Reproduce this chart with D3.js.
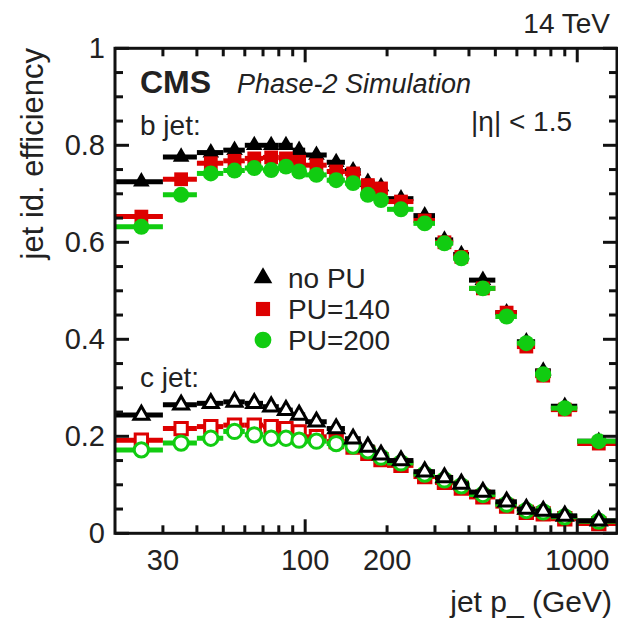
<!DOCTYPE html>
<html>
<head>
<meta charset="utf-8">
<script src="https://cdn.jsdelivr.net/npm/d3@7"></script>
<style>
body { margin: 0; background: #fff; }
text { font-family: "Liberation Sans", Arial, Helvetica, sans-serif; fill: #222; }
</style>
</head>
<body>
<div id="chart"></div>
<script>

// jet pt bin edges (GeV)
var binEdges = [20,30,40,50,60,70,80,90,100,120,140,160,180,200,250,300,350,400,500,600,700,800,1000,1400];

// b jet efficiency
var bNoPU  = [0.725,0.776,0.785,0.790,0.800,0.800,0.800,0.790,0.780,0.765,0.748,0.724,0.715,0.690,0.655,0.605,0.575,0.522,0.455,0.395,0.335,0.262,0.190];
var bPU140 = [0.653,0.730,0.763,0.768,0.773,0.775,0.773,0.766,0.759,0.746,0.742,0.718,0.711,0.684,0.645,0.600,0.570,0.505,0.455,0.385,0.325,0.255,0.185];
var bPU200 = [0.632,0.698,0.742,0.748,0.753,0.749,0.756,0.746,0.739,0.728,0.722,0.698,0.687,0.668,0.639,0.598,0.567,0.505,0.447,0.392,0.328,0.258,0.190];

// c jet mistag
var cNoPU  = [0.244,0.265,0.268,0.271,0.268,0.261,0.254,0.244,0.230,0.216,0.195,0.178,0.162,0.150,0.127,0.115,0.102,0.085,0.065,0.050,0.046,0.036,0.026];
var cPU140 = [0.192,0.216,0.220,0.223,0.223,0.220,0.216,0.209,0.199,0.189,0.178,0.165,0.152,0.140,0.117,0.105,0.093,0.075,0.056,0.043,0.040,0.030,0.020];
var cPU200 = [0.172,0.186,0.196,0.210,0.203,0.196,0.196,0.192,0.190,0.185,0.180,0.170,0.157,0.145,0.122,0.110,0.098,0.080,0.060,0.047,0.044,0.034,0.025];

var xTickLabels = [30,100,200,1000];
var yTickLabels = [0,0.2,0.4,0.6,0.8,1];
var legendNames = ["no PU","PU=140","PU=200"];

var black = "#000000", red = "#dd0000", green = "#11cc11";

var W = 618, H = 622;
var mL = 115, mR = 617, mT = 48.3, mB = 533.3;

var svg = d3.select("#chart").append("svg").attr("width", W).attr("height", H);

var x = d3.scaleLog().domain([20,1400]).range([mL,mR]);
var y = d3.scaleLinear().domain([0,1]).range([mB,mT]);

function rows(vals){
    return vals.map(function(v,i){
        var lo = binEdges[i], hi = binEdges[i+1];
        return {lo:lo, hi:hi, mid:(lo+hi)/2, v:v};
    });
}

function drawSeries(vals, color, shape, open){
    var data = rows(vals);
    var g = svg.append("g");
    g.selectAll("line").data(data).enter().append("line")
        .attr("x1", d=>x(d.lo)).attr("x2", d=>x(d.hi))
        .attr("y1", d=>y(d.v)).attr("y2", d=>y(d.v))
        .attr("stroke", color).attr("stroke-width", 5);
    var size = shape==d3.symbolTriangle ? 120 : (shape==d3.symbolSquare ? 190 : 200);
    if (open) size = size*0.8;
    g.selectAll("path").data(data).enter().append("path")
        .attr("transform", d=>"translate(" + x(d.mid) + "," + y(d.v) + ")")
        .attr("d", d3.symbol().type(shape).size(size))
        .attr("fill", open ? "#fff" : color)
        .attr("stroke", color).attr("stroke-width", open ? 3 : 0);
}

// b jets
drawSeries(bNoPU, black, d3.symbolTriangle, false);
drawSeries(bPU140, red, d3.symbolSquare, false);
drawSeries(bPU200, green, d3.symbolCircle, false);
// c jets
drawSeries(cPU140, red, d3.symbolSquare, true);
drawSeries(cPU200, green, d3.symbolCircle, true);
drawSeries(cNoPU, black, d3.symbolTriangle, true);

// frame
svg.append("rect").attr("x", mL).attr("y", mT)
    .attr("width", mR-mL).attr("height", mB-mT)
    .attr("fill", "none").attr("stroke", "#111").attr("stroke-width", 3);

// x ticks (bottom and top, inward)
var xTicks = [30,40,50,60,70,80,90,100,200,300,400,500,600,700,800,900,1000];
var xt = svg.append("g");
xTicks.forEach(function(t){
    var len = (t==100 || t==1000) ? 14 : 8;
    xt.append("line").attr("x1", x(t)).attr("x2", x(t)).attr("y1", mB).attr("y2", mB-len)
        .attr("stroke", "#111").attr("stroke-width", 3);
    xt.append("line").attr("x1", x(t)).attr("x2", x(t)).attr("y1", mT).attr("y2", mT+len)
        .attr("stroke", "#111").attr("stroke-width", 3);
});
xTickLabels.forEach(function(t){
    svg.append("text").attr("x", x(t)).attr("y", 570).attr("text-anchor", "middle")
        .style("font-size", "29px").text(t);
});

// y ticks
var yt = svg.append("g");
d3.range(0, 21).forEach(function(k){
    var v = k*0.05;
    var len = (k%4==0) ? 14 : 8;
    yt.append("line").attr("x1", mL).attr("x2", mL+len).attr("y1", y(v)).attr("y2", y(v))
        .attr("stroke", "#111").attr("stroke-width", 3);
    yt.append("line").attr("x1", mR).attr("x2", mR-len).attr("y1", y(v)).attr("y2", y(v))
        .attr("stroke", "#111").attr("stroke-width", 3);
});
yTickLabels.forEach(function(t){
    svg.append("text").attr("x", 105).attr("y", y(t)+10).attr("text-anchor", "end")
        .style("font-size", "29px").text(t);
});

// axis titles
svg.append("text").attr("transform", "translate(43,48) rotate(-90)")
    .attr("text-anchor", "end").style("font-size", "31px").text("jet id. efficiency");
svg.append("text").attr("x", 612).attr("y", 612).attr("text-anchor", "end")
    .style("font-size", "30px").text("jet p_ (GeV)");

// labels
svg.append("text").attr("x", 610).attr("y", 33).attr("text-anchor", "end")
    .style("font-size", "28px").text("14 TeV");
svg.append("text").attr("x", 140).attr("y", 93)
    .style("font-size", "32px").style("font-weight", "bold").text("CMS");
svg.append("text").attr("x", 237).attr("y", 93)
    .style("font-size", "27px").style("font-style", "italic").text("Phase-2 Simulation");
svg.append("text").attr("x", 140).attr("y", 135).style("font-size", "28px").text("b jet:");
svg.append("text").attr("x", 572).attr("y", 131).attr("text-anchor", "end")
    .style("font-size", "28px").text("|η| < 1.5");
svg.append("text").attr("x", 140).attr("y", 387).style("font-size", "28px").text("c jet:");

// legend
var legShapes = [d3.symbolTriangle, d3.symbolSquare, d3.symbolCircle];
var legColors = [black, red, green];
var legSizes = [150, 200, 220];
legendNames.forEach(function(name, i){
    var cy = 278 + i*31;
    svg.append("path").attr("transform", "translate(263," + cy + ")")
        .attr("d", d3.symbol().type(legShapes[i]).size(legSizes[i]))
        .attr("fill", legColors[i]);
    svg.append("text").attr("x", 288).attr("y", cy+10).style("font-size", "28px").text(name);
});

</script>
</body>
</html>
